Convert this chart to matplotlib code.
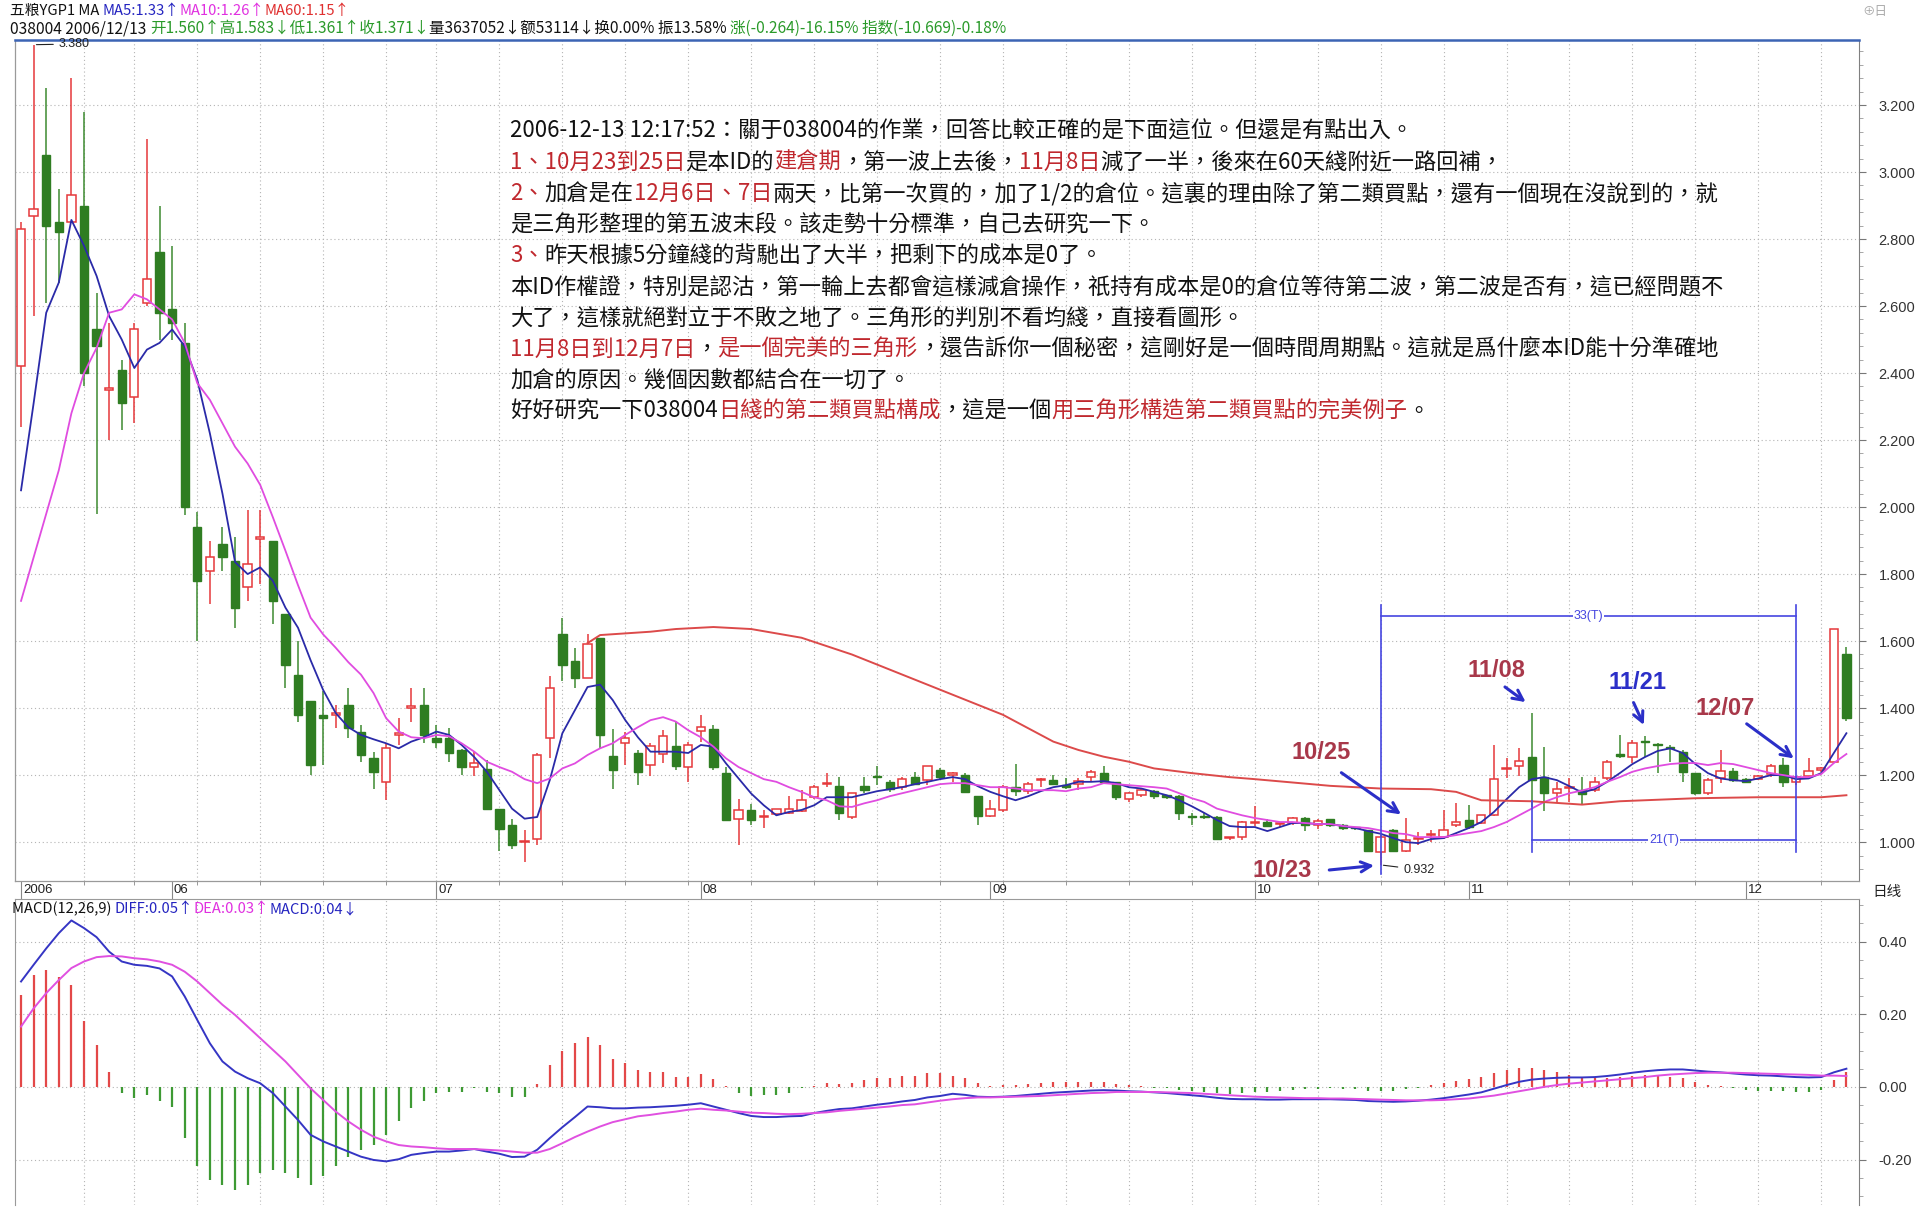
import numpy as np
import matplotlib
matplotlib.use('Agg')
import matplotlib.pyplot as plt
from matplotlib.ticker import MultipleLocator
from matplotlib.transforms import blended_transform_factory

CJK = ['Noto Sans CJK TC', 'DejaVu Sans']
SC = ['Noto Sans CJK SC', 'DejaVu Sans']
LAT = ['Liberation Sans', 'DejaVu Sans']

# ---- daily OHLC, 038004 (2006-05 .. 2006-12-13) ----
opens = [
    2.42, 2.87, 3.05, 2.85, 2.85, 2.90, 2.53, 2.35, 2.41, 2.33,
    2.61, 2.76, 2.59, 2.49, 1.94, 1.81, 1.89, 1.84, 1.76, 1.905,
    1.90, 1.68, 1.50, 1.42, 1.38, 1.38, 1.41, 1.33, 1.25, 1.18,
    1.32, 1.40, 1.41, 1.31, 1.31, 1.275, 1.225, 1.218, 1.10, 1.05,
    1.00, 1.01, 1.31, 1.62, 1.54, 1.49, 1.61, 1.257, 1.295, 1.265,
    1.23, 1.263, 1.287, 1.225, 1.331, 1.337, 1.206, 1.069, 1.096, 1.075,
    1.084, 1.087, 1.093, 1.134, 1.174, 1.167, 1.075, 1.167, 1.196, 1.18,
    1.164, 1.194, 1.185, 1.215, 1.20, 1.20, 1.137, 1.078, 1.096, 1.164,
    1.152, 1.186, 1.185, 1.17, 1.173, 1.194, 1.206, 1.18, 1.128, 1.14,
    1.152, 1.14, 1.137, 1.077, 1.077, 1.075, 1.011, 1.015, 1.056, 1.06,
    1.053, 1.057, 1.072, 1.051, 1.069, 1.05, 1.043, 1.036, 0.97, 1.036,
    0.973, 1.008, 1.02, 1.015, 1.051, 1.066, 1.057, 1.08, 1.219, 1.227,
    1.254, 1.194, 1.146, 1.163, 1.155, 1.155, 1.19, 1.262, 1.254, 1.303,
    1.292, 1.285, 1.27, 1.206, 1.146, 1.19, 1.212, 1.188, 1.188, 1.203,
    1.23, 1.18, 1.197, 1.215, 1.24, 1.56]
highs = [
    2.85, 3.38, 3.25, 2.95, 3.28, 3.18, 2.64, 2.55, 2.44, 2.55,
    3.10, 2.90, 2.78, 2.55, 1.985, 1.90, 1.94, 1.91, 1.99, 1.99,
    1.90, 1.68, 1.60, 1.42, 1.45, 1.41, 1.46, 1.35, 1.27, 1.295,
    1.37, 1.46, 1.46, 1.35, 1.34, 1.277, 1.27, 1.245, 1.10, 1.07,
    1.035, 1.265, 1.495, 1.67, 1.58, 1.62, 1.61, 1.337, 1.33, 1.275,
    1.296, 1.334, 1.36, 1.30, 1.38, 1.35, 1.225, 1.13, 1.113, 1.096,
    1.10, 1.137, 1.155, 1.17, 1.205, 1.195, 1.146, 1.194, 1.227, 1.185,
    1.195, 1.21, 1.227, 1.22, 1.21, 1.205, 1.137, 1.125, 1.17, 1.233,
    1.18, 1.19, 1.20, 1.19, 1.19, 1.215, 1.227, 1.18, 1.15, 1.16,
    1.155, 1.142, 1.14, 1.087, 1.087, 1.077, 1.016, 1.063, 1.107, 1.07,
    1.06, 1.075, 1.075, 1.07, 1.07, 1.053, 1.045, 1.036, 1.02, 1.04,
    1.072, 1.03, 1.035, 1.096, 1.117, 1.11, 1.082, 1.29, 1.25, 1.28,
    1.385, 1.284, 1.18, 1.19, 1.195, 1.195, 1.245, 1.32, 1.305, 1.318,
    1.297, 1.29, 1.275, 1.206, 1.19, 1.275, 1.22, 1.19, 1.20, 1.232,
    1.25, 1.198, 1.25, 1.225, 1.635, 1.583]
lows = [
    2.24, 2.57, 2.61, 2.67, 2.85, 2.36, 1.98, 2.20, 2.23, 2.25,
    2.60, 2.50, 2.50, 1.976, 1.60, 1.71, 1.81, 1.64, 1.72, 1.77,
    1.65, 1.46, 1.36, 1.20, 1.23, 1.34, 1.31, 1.24, 1.16, 1.125,
    1.29, 1.36, 1.295, 1.28, 1.24, 1.20, 1.197, 1.10, 0.975, 0.98,
    0.94, 0.99, 1.25, 1.48, 1.46, 1.49, 1.28, 1.16, 1.23, 1.17,
    1.197, 1.236, 1.215, 1.18, 1.30, 1.215, 1.066, 0.99, 1.05, 1.042,
    1.08, 1.085, 1.09, 1.13, 1.164, 1.066, 1.07, 1.146, 1.17, 1.15,
    1.155, 1.17, 1.17, 1.185, 1.18, 1.146, 1.05, 1.075, 1.09, 1.137,
    1.145, 1.164, 1.17, 1.16, 1.155, 1.18, 1.18, 1.125, 1.12, 1.135,
    1.13, 1.13, 1.066, 1.05, 1.068, 1.005, 1.005, 1.005, 1.048, 1.045,
    1.045, 1.05, 1.033, 1.04, 1.045, 1.036, 1.036, 0.97, 0.932, 0.97,
    0.97, 0.99, 1.0, 1.01, 1.045, 1.04, 1.055, 1.078, 1.19, 1.197,
    1.105, 1.093, 1.12, 1.12, 1.113, 1.15, 1.185, 1.25, 1.235, 1.254,
    1.206, 1.24, 1.18, 1.14, 1.14, 1.176, 1.18, 1.175, 1.185, 1.195,
    1.164, 1.17, 1.19, 1.21, 1.235, 1.361]
closes = [
    2.83, 2.89, 2.84, 2.82, 2.93, 2.40, 2.48, 2.355, 2.31, 2.53,
    2.68, 2.58, 2.55, 2.00, 1.78, 1.85, 1.85, 1.70, 1.83, 1.91,
    1.72, 1.53, 1.38, 1.23, 1.37, 1.385, 1.34, 1.26, 1.21, 1.28,
    1.325, 1.405, 1.32, 1.30, 1.265, 1.225, 1.235, 1.10, 1.04, 0.99,
    1.003, 1.26, 1.46, 1.53, 1.49, 1.59, 1.32, 1.215, 1.31, 1.21,
    1.287, 1.316, 1.227, 1.29, 1.343, 1.225, 1.066, 1.096, 1.066, 1.078,
    1.099, 1.10, 1.125, 1.164, 1.176, 1.087, 1.146, 1.155, 1.194, 1.16,
    1.188, 1.173, 1.227, 1.194, 1.206, 1.149, 1.078, 1.10, 1.164, 1.152,
    1.173, 1.188, 1.173, 1.164, 1.182, 1.21, 1.18, 1.134, 1.146, 1.155,
    1.137, 1.134, 1.087, 1.075, 1.075, 1.009, 1.012, 1.06, 1.057, 1.048,
    1.054, 1.072, 1.051, 1.063, 1.051, 1.042, 1.042, 0.973, 1.015, 0.973,
    1.006, 1.009, 1.021, 1.036, 1.06, 1.045, 1.08, 1.188, 1.22, 1.242,
    1.185, 1.146, 1.16, 1.164, 1.145, 1.18, 1.24, 1.258, 1.296, 1.30,
    1.29, 1.28, 1.21, 1.146, 1.185, 1.212, 1.185, 1.18, 1.197, 1.227,
    1.18, 1.194, 1.212, 1.22, 1.635, 1.371]

# moving averages as shown by the software
ma5 = [
    2.05, 2.31, 2.58, 2.67, 2.857, 2.78, 2.69, 2.57, 2.50, 2.415,
    2.47, 2.49, 2.53, 2.48, 2.38, 2.22, 2.04, 1.836, 1.80, 1.82,
    1.78, 1.70, 1.64, 1.543, 1.454, 1.385, 1.343, 1.32, 1.307, 1.295,
    1.28, 1.30, 1.313, 1.33, 1.32, 1.29, 1.254, 1.21, 1.155, 1.10,
    1.07, 1.075, 1.185, 1.325, 1.394, 1.463, 1.47, 1.424, 1.364, 1.313,
    1.27, 1.27, 1.27, 1.266, 1.29, 1.285, 1.235, 1.19, 1.145, 1.11,
    1.08, 1.09, 1.096, 1.11, 1.134, 1.134, 1.134, 1.143, 1.152, 1.158,
    1.164, 1.173, 1.18, 1.188, 1.194, 1.188, 1.167, 1.15, 1.137, 1.125,
    1.137, 1.152, 1.164, 1.17, 1.18, 1.18, 1.182, 1.176, 1.164, 1.16,
    1.15, 1.14, 1.125, 1.107, 1.087, 1.066, 1.048, 1.045, 1.045, 1.033,
    1.045, 1.057, 1.057, 1.054, 1.054, 1.048, 1.042, 1.033, 1.025, 1.012,
    1.0, 0.997, 1.009, 1.012, 1.027, 1.042, 1.06, 1.09, 1.128, 1.164,
    1.188, 1.194, 1.185, 1.167, 1.148, 1.158, 1.18, 1.206, 1.233, 1.254,
    1.272, 1.28, 1.266, 1.233, 1.206, 1.19, 1.185, 1.182, 1.19, 1.2,
    1.2, 1.188, 1.19, 1.206, 1.266, 1.325]
ma10 = [
    1.72, 1.85, 1.98, 2.11, 2.28, 2.40, 2.475, 2.58, 2.59, 2.635,
    2.62, 2.59, 2.56, 2.49, 2.37, 2.32, 2.25, 2.18, 2.13, 2.066,
    1.97, 1.87, 1.767, 1.67, 1.62, 1.58, 1.537, 1.50, 1.445, 1.37,
    1.33, 1.313, 1.31, 1.32, 1.316, 1.295, 1.27, 1.24, 1.224, 1.21,
    1.188, 1.176, 1.19, 1.22, 1.235, 1.26, 1.28, 1.295, 1.32, 1.343,
    1.364, 1.373, 1.36, 1.334, 1.313, 1.285, 1.25, 1.224, 1.206, 1.188,
    1.18, 1.164, 1.15, 1.134, 1.125, 1.107, 1.105, 1.116, 1.125, 1.137,
    1.146, 1.155, 1.164, 1.173, 1.176, 1.176, 1.17, 1.164, 1.164, 1.16,
    1.155, 1.155, 1.155, 1.152, 1.16, 1.164, 1.176, 1.173, 1.17, 1.167,
    1.164, 1.16, 1.146, 1.131, 1.12, 1.10, 1.09, 1.08, 1.072, 1.066,
    1.06, 1.06, 1.057, 1.054, 1.054, 1.048, 1.045, 1.042, 1.035, 1.027,
    1.024, 1.015, 1.015, 1.015, 1.021, 1.027, 1.033, 1.045, 1.06, 1.08,
    1.10, 1.12, 1.134, 1.146, 1.154, 1.164, 1.18, 1.194, 1.21, 1.22,
    1.227, 1.233, 1.236, 1.236, 1.23, 1.236, 1.233, 1.224, 1.215, 1.206,
    1.2, 1.194, 1.194, 1.203, 1.236, 1.263]
ma60_idx = [45, 46, 50, 52, 55, 58, 62, 66, 70, 74, 78, 80, 82, 84, 86, 88, 90,
            93, 96, 98, 101, 104, 108, 112, 114, 116, 120, 124, 127, 133, 138, 143, 145]
ma60_val = [1.594, 1.618, 1.628, 1.636, 1.642, 1.636, 1.61, 1.56, 1.50, 1.44, 1.38,
            1.34, 1.30, 1.275, 1.255, 1.24, 1.22, 1.206, 1.194, 1.188, 1.178, 1.168,
            1.16, 1.158, 1.15, 1.125, 1.122, 1.112, 1.122, 1.131, 1.134, 1.134, 1.14]

# MACD(12,26,9)
diff = [
    0.290, 0.336, 0.381, 0.423, 0.458, 0.437, 0.412, 0.372, 0.345, 0.336,
    0.333, 0.326, 0.304, 0.249, 0.184, 0.120, 0.070, 0.042, 0.024, 0.010,
    -0.017, -0.054, -0.091, -0.132, -0.150, -0.164, -0.178, -0.192, -0.201, -0.205,
    -0.199, -0.187, -0.182, -0.178, -0.178, -0.175, -0.171, -0.178, -0.184, -0.193,
    -0.192, -0.173, -0.141, -0.111, -0.083, -0.054, -0.056, -0.059, -0.059, -0.057,
    -0.056, -0.054, -0.052, -0.049, -0.045, -0.054, -0.063, -0.072, -0.080, -0.083,
    -0.083, -0.081, -0.080, -0.072, -0.066, -0.061, -0.059, -0.054, -0.049, -0.045,
    -0.040, -0.036, -0.029, -0.025, -0.019, -0.022, -0.027, -0.028, -0.027, -0.025,
    -0.022, -0.019, -0.016, -0.014, -0.012, -0.010, -0.009, -0.010, -0.012, -0.013,
    -0.015, -0.017, -0.020, -0.023, -0.026, -0.030, -0.033, -0.034, -0.034, -0.035,
    -0.035, -0.034, -0.034, -0.034, -0.034, -0.035, -0.036, -0.039, -0.040, -0.041,
    -0.040, -0.038, -0.035, -0.031, -0.026, -0.021, -0.015, -0.005, 0.005, 0.014,
    0.020, 0.023, 0.025, 0.026, 0.026, 0.027, 0.030, 0.034, 0.039, 0.043,
    0.046, 0.048, 0.048, 0.045, 0.042, 0.040, 0.037, 0.034, 0.032, 0.031,
    0.029, 0.027, 0.026, 0.027, 0.040, 0.050]
dea = [
    0.166, 0.216, 0.258, 0.294, 0.327, 0.345, 0.357, 0.360, 0.359, 0.354,
    0.351, 0.345, 0.336, 0.317, 0.290, 0.258, 0.226, 0.198, 0.166, 0.134,
    0.102, 0.070, 0.033, -0.004, -0.036, -0.068, -0.095, -0.118, -0.137, -0.150,
    -0.160, -0.164, -0.166, -0.169, -0.171, -0.171, -0.171, -0.173, -0.175, -0.178,
    -0.181, -0.181, -0.171, -0.155, -0.138, -0.123, -0.109, -0.097, -0.089, -0.081,
    -0.077, -0.072, -0.068, -0.063, -0.060, -0.063, -0.065, -0.068, -0.071, -0.072,
    -0.074, -0.075, -0.074, -0.072, -0.070, -0.066, -0.063, -0.060, -0.057, -0.054,
    -0.050, -0.048, -0.043, -0.038, -0.034, -0.031, -0.029, -0.029, -0.028, -0.027,
    -0.026, -0.025, -0.023, -0.021, -0.019, -0.017, -0.016, -0.014, -0.014, -0.014,
    -0.014, -0.015, -0.016, -0.017, -0.019, -0.021, -0.023, -0.025, -0.027, -0.028,
    -0.029, -0.030, -0.031, -0.031, -0.032, -0.032, -0.033, -0.034, -0.035, -0.036,
    -0.037, -0.037, -0.037, -0.036, -0.034, -0.032, -0.028, -0.024, -0.018, -0.012,
    -0.006, 0.000, 0.005, 0.009, 0.012, 0.015, 0.018, 0.021, 0.024, 0.027,
    0.031, 0.034, 0.036, 0.038, 0.039, 0.039, 0.039, 0.038, 0.037, 0.036,
    0.035, 0.034, 0.033, 0.031, 0.031, 0.030]
macd_bar = [
    0.253, 0.308, 0.322, 0.303, 0.28, 0.18, 0.116, 0.042, -0.016, -0.031,
    -0.022, -0.04, -0.054, -0.141, -0.219, -0.256, -0.27, -0.285, -0.27, -0.237,
    -0.228, -0.237, -0.251, -0.27, -0.246, -0.219, -0.192, -0.174, -0.16, -0.132,
    -0.095, -0.059, -0.04, -0.017, -0.013, -0.013, -0.004, -0.013, -0.017, -0.028,
    -0.028, 0.008, 0.06, 0.10, 0.12, 0.138, 0.114, 0.077, 0.067, 0.047,
    0.042, 0.042, 0.028, 0.028, 0.036, 0.021, 0.002, -0.017, -0.025, -0.022,
    -0.022, -0.016, -0.004, 0.003, 0.01, 0.008, 0.01, 0.019, 0.024, 0.024,
    0.03, 0.03, 0.038, 0.038, 0.03, 0.024, 0.01, 0.003, 0.004, 0.004,
    0.008, 0.012, 0.014, 0.014, 0.014, 0.014, 0.014, 0.008, 0.004, 0.002,
    -0.002, -0.004, -0.008, -0.012, -0.014, -0.018, -0.02, -0.018, -0.014, -0.014,
    -0.012, -0.008, -0.006, -0.006, -0.004, -0.006, -0.006, -0.01, -0.01, -0.01,
    -0.006, -0.002, 0.004, 0.01, 0.016, 0.022, 0.026, 0.038, 0.046, 0.052,
    0.052, 0.046, 0.04, 0.034, 0.028, 0.024, 0.024, 0.026, 0.03, 0.032,
    0.03, 0.028, 0.024, 0.014, 0.006, 0.002, -0.004, -0.008, -0.01, -0.01,
    -0.012, -0.014, -0.014, -0.008, 0.018, 0.04]

month_idx = [0, 12, 33, 54, 77, 98, 115, 137]
month_labels = ['2006', '06', '07', '08', '09', '10', '11', '12']
grid_idx = [5, 9, 14, 19, 24, 29, 33] + list(range(38, 146, 5))
price_ticks = [1.0, 1.2, 1.4, 1.6, 1.8, 2.0, 2.2, 2.4, 2.6, 2.8, 3.0, 3.2]
macd_ticks = [0.4, 0.2, 0.0, -0.2]

RED = '#e5383b'
GREEN = '#2f7d22'
TXT_RED = '#c0282e'
DATE_RED = '#a8384a'
ARROW = '#2b2fc8'

W, H = 1918, 1208
fig = plt.figure(figsize=(W / 100, H / 100), dpi=100)
fig.patch.set_facecolor('white')


def fx(px):
    return px / W


def fy(py):
    return 1 - py / H


ax = fig.add_axes([fx(15), fy(881), fx(1859) - fx(15), fy(40) - fy(881)])
ax2 = fig.add_axes([fx(15), fy(1205), fx(1859) - fx(15), fy(899) - fy(1205)])

o, h, l, c = (np.array(v) for v in (opens, highs, lows, closes))
x = np.arange(len(c))
up = c >= o

# grid
dots = (0, (1, 2.5))
for a in (ax, ax2):
    for g in grid_idx:
        a.axvline(g, color='#b4b4b4', lw=0.8, ls=dots, zorder=0)
for v in price_ticks:
    ax.axhline(v, color='#b4b4b4', lw=0.8, ls=dots, zorder=0)
for v in macd_ticks:
    ax2.axhline(v, color='#b4b4b4', lw=0.8, ls=dots, zorder=0)

# candles
ax.vlines(x[up], l[up], h[up], color=RED, lw=1.1, zorder=2)
ax.vlines(x[~up], l[~up], h[~up], color='#3d8a30', lw=1.1, zorder=2)
bottom = np.minimum(o, c)
height = np.maximum(np.abs(c - o), 0.003)
ax.bar(x[up], height[up], bottom=bottom[up], width=0.66, facecolor='white',
       edgecolor=RED, lw=1.1, zorder=3)
ax.bar(x[~up], height[~up], bottom=bottom[~up], width=0.66, facecolor=GREEN,
       edgecolor=GREEN, lw=1.0, zorder=3)

# moving averages
ax.plot(x, ma5, color='#2a2aa8', lw=1.3, zorder=4)
ax.plot(x, ma10, color='#e04ce0', lw=1.3, zorder=4)
ax.plot(ma60_idx, ma60_val, color='#dc4a4a', lw=1.4, zorder=4)

ax.set_xlim(-0.48, 146.0)
ax.set_ylim(0.884, 3.394)

# 33(T) / 21(T) measure
BL = '#4646e0'
ax.plot([108, 108], [0.905, 1.707], color=BL, lw=1.2, zorder=5)
ax.plot([141, 141], [0.971, 1.707], color=BL, lw=1.2, zorder=5)
ax.plot([108, 141], [1.675, 1.675], color=BL, lw=1.2, zorder=5)
ax.plot([120, 120], [0.972, 1.123], color=BL, lw=1.2, zorder=5)
ax.plot([120, 141], [1.006, 1.006], color=BL, lw=1.2, zorder=5)
ax.text(124.5, 1.675, '33(T)', color=BL, fontsize=9, family=LAT, ha='center',
        va='center', zorder=6, bbox=dict(fc='white', ec='none', pad=0.5))
ax.text(130.5, 1.006, '21(T)', color=BL, fontsize=9, family=LAT, ha='center',
        va='center', zorder=6, bbox=dict(fc='white', ec='none', pad=0.5))

# extreme labels
ax.annotate('3.380', xy=(1, 3.38), xytext=(3.0, 3.382), fontsize=9, family=LAT,
            color='#222', va='center', arrowprops=dict(arrowstyle='-', color='#222', lw=0.8),
            annotation_clip=False)
ax.annotate('0.932', xy=(108, 0.932), xytext=(109.8, 0.918), fontsize=9, family=LAT,
            color='#222', va='center', arrowprops=dict(arrowstyle='-', color='#222', lw=0.8))

# date call-outs
calls = [('10/25', DATE_RED, (103.3, 1.268), (104.7, 1.212), (109.8, 1.078)),
         ('10/23', DATE_RED, (100.2, 0.916), (103.7, 0.916), (107.7, 0.931)),
         ('11/08', DATE_RED, (117.2, 1.513), (117.7, 1.468), (119.7, 1.413)),
         ('11/21', ARROW, (128.4, 1.475), (128.0, 1.424), (129.0, 1.342)),
         ('12/07', DATE_RED, (135.4, 1.400), (136.9, 1.358), (141.0, 1.245))]
for lab, col, pos, a0, a1 in calls:
    ax.text(pos[0], pos[1], lab, color=col, fontsize=17, fontweight='bold',
            family=LAT, ha='center', va='center', zorder=7)
    ax.annotate('', xy=a1, xytext=a0, zorder=7,
                arrowprops=dict(arrowstyle='->', color=ARROW, lw=2.2, mutation_scale=18))

# axes styling, price panel
ax.yaxis.tick_right()
ax.set_yticks(price_ticks)
ax.set_yticklabels([f'{v:.3f}' for v in price_ticks], family=LAT, fontsize=10.5, color='#333')
ax.yaxis.set_minor_locator(MultipleLocator(0.04))
ax.tick_params(axis='y', which='major', length=5, pad=9, color='#777')
ax.tick_params(axis='y', which='minor', length=3, color='#999')
ax.set_xticks(month_idx)
ax.set_xticks(grid_idx, minor=True)
ax.tick_params(axis='x', which='major', length=13, direction='out', color='#888',
               labelbottom=False)
ax.tick_params(axis='x', which='minor', length=3, direction='out', color='#888')
for s in ('left', 'bottom'):
    ax.spines[s].set_color('#9a9a9a')
    ax.spines[s].set_linewidth(0.9)
ax.spines['right'].set_color('#808080')
ax.spines['top'].set_color('#3c64b4')
ax.spines['top'].set_linewidth(1.8)

trans = blended_transform_factory(ax.transData, ax.transAxes)
for i, lab in zip(month_idx, month_labels):
    ax.text(i + 0.15, -0.0107, lab, transform=trans, fontsize=9.5, family=LAT,
            color='#222', ha='left', va='center')

# MACD panel
xb = np.arange(len(macd_bar))
bars = np.array(macd_bar)
ax2.vlines(xb[bars >= 0], 0, bars[bars >= 0], color='#e34848', lw=1.6)
ax2.vlines(xb[bars < 0], 0, bars[bars < 0], color='#3e9a34', lw=1.6)
ax2.plot(xb, diff, color='#3535c4', lw=1.4)
ax2.plot(xb, dea, color='#e050e0', lw=1.4)
ax2.set_xlim(-0.48, 146.0)
ax2.set_ylim(-0.325, 0.517)
ax2.yaxis.tick_right()
ax2.set_yticks(macd_ticks)
ax2.set_yticklabels([f'{v:.2f}' for v in macd_ticks], family=LAT, fontsize=10.5, color='#333')
ax2.yaxis.set_minor_locator(MultipleLocator(0.05))
ax2.tick_params(axis='y', which='major', length=5, pad=9, color='#777')
ax2.tick_params(axis='y', which='minor', length=3, color='#999')
ax2.tick_params(axis='x', which='both', length=0, labelbottom=False)
ax2.spines['bottom'].set_visible(False)
for s in ('left', 'top'):
    ax2.spines[s].set_color('#9a9a9a')
ax2.spines['right'].set_color('#808080')


# mixed colour text rows
def seg_line(host, xp, yp, parts, size, family):
    t = host.annotate(parts[0][0], xy=(fx(xp), fy(yp)), xycoords='figure fraction',
                      color=parts[0][1], fontsize=size, family=family, va='baseline',
                      ha='left', annotation_clip=False, zorder=8)
    for s, col in parts[1:]:
        t = host.annotate(s, xy=(1, 0), xycoords=t, color=col, fontsize=size,
                          family=family, va='bottom', ha='left',
                          annotation_clip=False, zorder=8)
    return t


K = '#111111'
seg_line(ax, 10, 15, [('五粮YGP1 MA ', K), ('MA5:1.33↑', '#2424c0'),
                      ('MA10:1.26↑', '#e030e0'), ('MA60:1.15↑', '#e03030')], 10.6, SC)
seg_line(ax, 10, 33, [('038004 2006/12/13 ', K),
                      ('开1.560↑高1.583↓低1.361↑收1.371↓', '#2a9a2a'),
                      ('量3637052↓额53114↓换0.00% 振13.58% ', K),
                      ('涨(-0.264)-16.15% 指数(-10.669)-0.18%', '#2a9a2a')], 11.2, SC)
seg_line(ax2, 12, 913, [('MACD(12,26,9) ', K), ('DIFF:0.05↑', '#2424c0'),
                        ('DEA:0.03↑', '#e030e0'), ('MACD:0.04↓', '#2424c0')], 10.6, SC)
fig.text(fx(1872), fy(892), '日线', fontsize=10.5, family=SC, color='#222', va='center')
fig.text(fx(1862), fy(12), '⊕日', fontsize=9, family=SC, color='#aaaaaa', va='center')

note_lines = [
    [('2006-12-13 12:17:52：關于038004的作業，回答比較正確的是下面這位。但還是有點出入。', K)],
    [('1、10月23到25日', TXT_RED), ('是本ID的', K), ('建倉期', TXT_RED), ('，第一波上去後，', K),
     ('11月8日', TXT_RED), ('減了一半，後來在60天綫附近一路回補，', K)],
    [('2、', TXT_RED), ('加倉是在', K), ('12月6日、7日', TXT_RED),
     ('兩天，比第一次買的，加了1/2的倉位。這裏的理由除了第二類買點，還有一個現在沒說到的，就', K)],
    [('是三角形整理的第五波末段。該走勢十分標準，自己去研究一下。', K)],
    [('3、', TXT_RED), ('昨天根據5分鐘綫的背馳出了大半，把剩下的成本是0了。', K)],
    [('本ID作權證，特別是認沽，第一輪上去都會這樣減倉操作，祇持有成本是0的倉位等待第二波，第二波是否有，這已經問題不', K)],
    [('大了，這樣就絕對立于不敗之地了。三角形的判別不看均綫，直接看圖形。', K)],
    [('11月8日到12月7日', TXT_RED), ('，', K), ('是一個完美的三角形', TXT_RED),
     ('，還告訴你一個秘密，這剛好是一個時間周期點。這就是爲什麼本ID能十分準確地', K)],
    [('加倉的原因。幾個因數都結合在一切了。', K)],
    [('好好研究一下038004', K), ('日綫的第二類買點構成', TXT_RED), ('，這是一個', K),
     ('用三角形構造第二類買點的完美例子', TXT_RED), ('。', K)],
]
for k, parts in enumerate(note_lines):
    seg_line(ax, 510, 138 + k * 31.1, parts, 16, CJK)

fig.savefig('out.png', dpi=100, facecolor='white')
